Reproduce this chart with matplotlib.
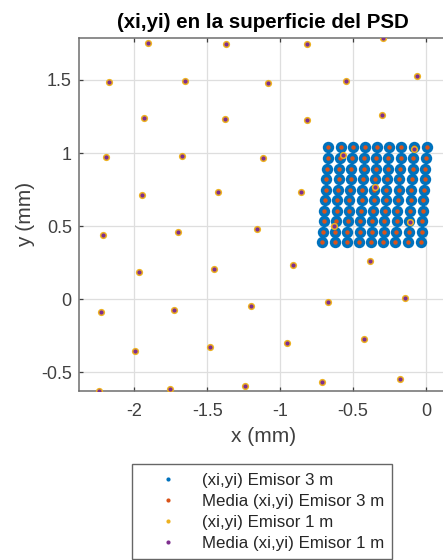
import numpy as np
import matplotlib
matplotlib.use('Agg')
import matplotlib.pyplot as plt
from matplotlib.lines import Line2D

plt.rcParams['font.family'] = ['Liberation Sans', 'DejaVu Sans']
plt.rcParams['axes.unicode_minus'] = False

# colores por defecto de MATLAB
c_azul = '#0072BD'
c_naranja = '#D95319'
c_amarillo = '#EDB120'
c_morado = '#7E2F8E'

# Emisor 1 m: medias (xi,yi) en mm
x_1m = [-1.908, -1.373, -0.818, -0.295,
        -2.171, -1.652, -1.085, -0.551, -0.062,
        -1.931, -1.378, -0.816, -0.304,
        -2.194, -1.675, -1.118, -0.571, -0.082,
        -1.947, -1.424, -0.859, -0.348,
        -2.212, -1.700, -1.160, -0.629, -0.108,
        -1.970, -1.451, -0.914, -0.384,
        -2.230, -1.728, -1.202, -0.670, -0.142,
        -1.995, -1.483, -0.955, -0.423,
        -2.244, -1.755, -1.243, -0.713, -0.180]
y_1m = [1.750, 1.743, 1.745, 1.784,
        1.485, 1.492, 1.478, 1.496, 1.528,
        1.241, 1.230, 1.223, 1.261,
        0.970, 0.978, 0.965, 0.989, 1.026,
        0.716, 0.730, 0.732, 0.765,
        0.440, 0.458, 0.479, 0.499, 0.525,
        0.185, 0.207, 0.233, 0.258,
        -0.091, -0.073, -0.048, -0.018, 0.005,
        -0.351, -0.330, -0.303, -0.274,
        -0.625, -0.614, -0.593, -0.568, -0.545]

# Emisor 3 m: rejilla de 9 columnas x 10 filas
col_x_3m = [-0.670, -0.585, -0.503, -0.418, -0.336, -0.254, -0.169, -0.082, 0.005]
fila_y_3m = [1.038, 0.965, 0.893, 0.821, 0.749, 0.677, 0.606, 0.534, 0.462, 0.390]
desplaz_3m = [0.0, -0.005, -0.009, -0.014, -0.018, -0.023, -0.027, -0.032, -0.036, -0.041]

etiquetas = ['(xi,yi) Emisor 3 m', 'Media (xi,yi) Emisor 3 m',
             '(xi,yi) Emisor 1 m', 'Media (xi,yi) Emisor 1 m']

X3, Y3 = np.meshgrid(col_x_3m, fila_y_3m)
X3 = X3 + np.array(desplaz_3m)[:, None]

fig = plt.figure(figsize=(4.43, 5.6), dpi=100)
ax = fig.add_axes([0.1777, 0.3018, 0.8334, 0.6309])

ax.plot(X3.ravel(), Y3.ravel(), 'o', color=c_azul, ms=8.2, mec='none', zorder=3)
ax.plot(X3.ravel(), Y3.ravel(), 'o', color=c_naranja, ms=3.2, mec='none', zorder=4)
ax.plot(x_1m, y_1m, 'o', color=c_amarillo, ms=5.2, mec='none', zorder=5)
ax.plot(x_1m, y_1m, 'o', color=c_morado, ms=3.0, mec='none', zorder=6)

ax.set_xlim(-2.381, 0.15)
ax.set_ylim(-0.628, 1.789)
ax.set_xticks([-2, -1.5, -1, -0.5, 0])
ax.set_xticklabels(['-2', '-1.5', '-1', '-0.5', '0'])
ax.set_yticks([-0.5, 0, 0.5, 1, 1.5])
ax.set_yticklabels(['-0.5', '0', '0.5', '1', '1.5'])

ax.grid(True, color='#dedede', lw=0.9, zorder=0)
ax.set_axisbelow(True)
for s in ax.spines.values():
    s.set_color('#6e6e6e')
    s.set_linewidth(1.1)
ax.tick_params(direction='in', length=3, width=0.9, color='#404040',
               labelsize=13, labelcolor='#404040', top=True, right=True)
ax.tick_params(axis='x', pad=9)
ax.tick_params(axis='y', pad=5)

ax.set_xlabel('x (mm)', fontsize=15, color='#404040', labelpad=5)
ax.set_ylabel('y (mm)', fontsize=15, color='#404040', labelpad=4)
ax.set_title('(xi,yi) en la superficie del PSD', fontsize=14.8,
             fontweight='bold', pad=7)

# leyenda con puntos pequenos
handles = [Line2D([], [], ls='none', marker='o', ms=3, mec='none', color=c)
           for c in [c_azul, c_naranja, c_amarillo, c_morado]]
leg = fig.legend(handles, etiquetas, loc='upper left',
                 bbox_to_anchor=(132.3 / 443, 1 - 464.3 / 560),
                 bbox_transform=fig.transFigure, fontsize=12.2,
                 frameon=True, fancybox=False, borderaxespad=0,
                 borderpad=0.5, handlelength=3.18, handletextpad=0.42,
                 labelspacing=0.35)
leg.get_frame().set_edgecolor('#404040')
leg.get_frame().set_linewidth(1.0)
for t in leg.get_texts():
    t.set_color('#262626')

plt.savefig('out.png', dpi=100)
